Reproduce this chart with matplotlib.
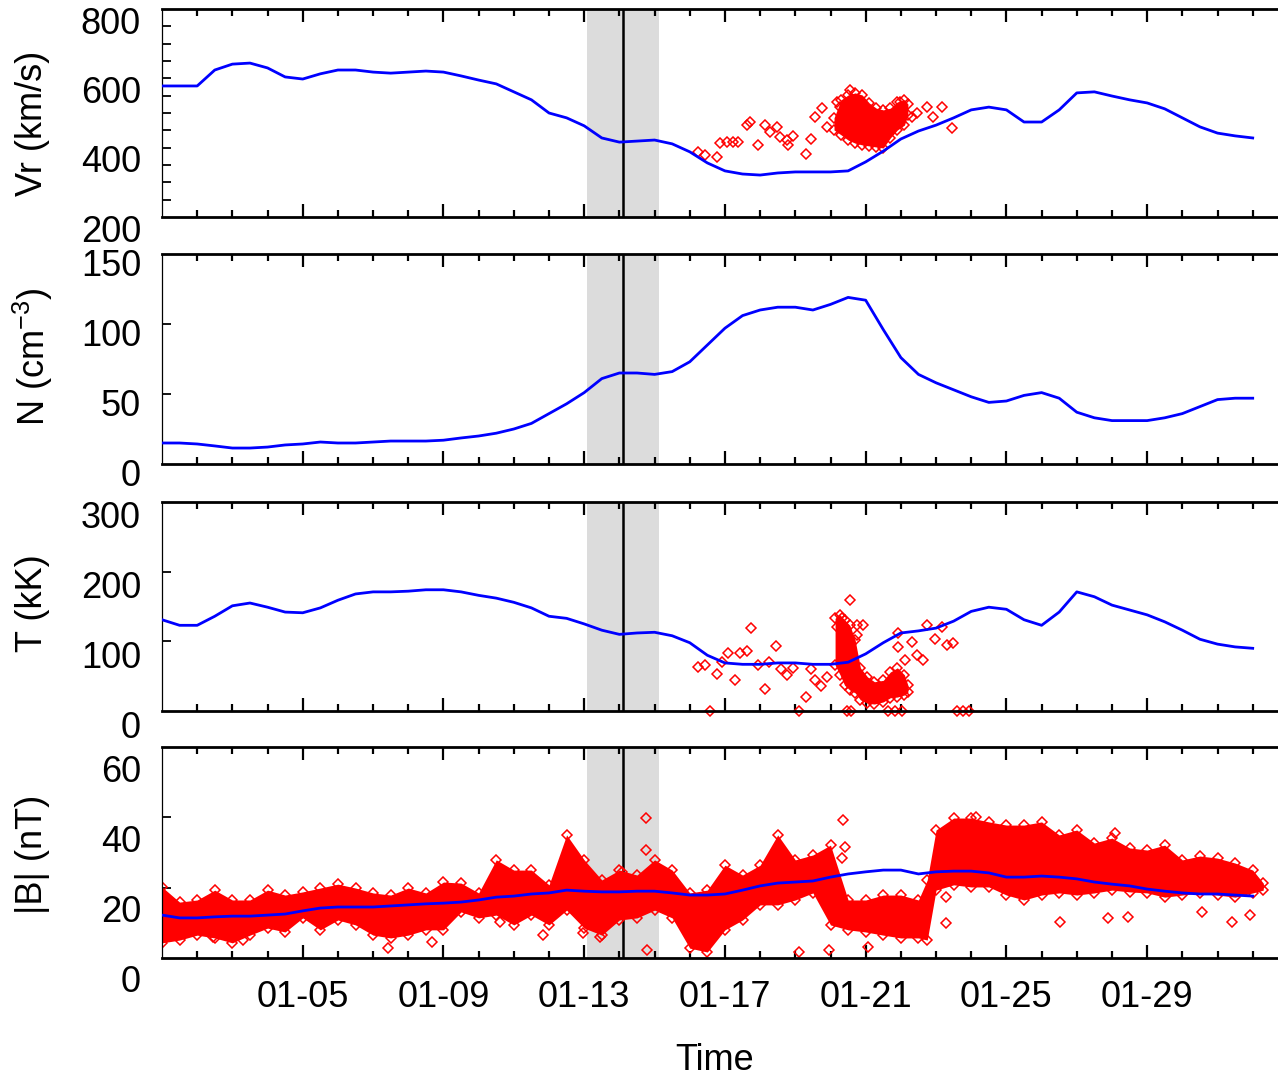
import numpy as np
import matplotlib
matplotlib.use("Agg")
import matplotlib.pyplot as plt
from matplotlib.transforms import blended_transform_factory, ScaledTranslation

plt.rcParams["font.family"] = ["Liberation Sans", "DejaVu Sans"]
plt.rcParams["mathtext.fontset"] = "custom"
plt.rcParams["mathtext.rm"] = "Liberation Sans"

# time axis: days since 01-01 00:00
day_grid = np.arange(0, 31.01, 0.5)
date_ticks = [4, 8, 12, 16, 20, 24, 28]
date_labels = ["01-05", "01-09", "01-13", "01-17", "01-21", "01-25", "01-29"]

event_day = 13.1
event_window = (12.07, 14.13)

# model (blue) curves
vr_model = [578, 578, 578, 624, 641, 644, 630, 604, 598, 613, 624, 624, 618,
            615, 618, 621, 618, 607, 595, 584, 561, 538, 500, 486, 463, 428,
            416, 419, 422, 411, 388, 356, 333, 324, 321, 327, 330, 330, 330,
            333, 359, 390, 425, 448, 465, 486, 509, 517, 509, 474, 474, 509,
            558, 561, 549, 538, 529, 512, 486, 460, 442, 434, 428]
n_model = [15, 15, 14.3, 12.9, 11.4, 11.4, 12.1, 13.6, 14.3, 15.7, 15, 15,
           15.7, 16.4, 16.4, 16.4, 17, 18.6, 20, 22, 25, 29, 36, 43, 51, 61,
           65, 65, 64, 66, 73, 85, 97, 106, 110, 112, 112, 110, 114, 119, 117,
           96, 76, 64, 58, 53, 48, 44, 45, 49, 51, 47, 37, 33, 31, 31, 31, 33,
           36, 41, 46, 47, 47]
t_model = [131, 123, 123, 136, 151, 155, 149, 142, 141, 148, 159, 168, 171,
           171, 172, 174, 174, 171, 166, 162, 156, 148, 136, 133, 125, 116,
           110, 112, 113, 108, 98, 80, 69, 67, 67, 69, 69, 67, 67, 70, 82, 98,
           112, 115, 119, 129, 143, 149, 146, 131, 123, 142, 171, 164, 152,
           145, 138, 128, 116, 103, 96, 92, 90]
b_model = [12.2, 11.4, 11.4, 11.7, 11.9, 11.9, 12.2, 12.5, 13.4, 14.2, 14.5,
           14.5, 14.5, 14.8, 15.1, 15.4, 15.6, 15.9, 16.5, 17.3, 17.6, 18.2,
           18.5, 19.3, 19.0, 18.8, 18.8, 19.0, 19.0, 18.5, 17.9, 17.9, 18.2,
           19.3, 20.5, 21.3, 21.6, 21.9, 23.0, 23.9, 24.5, 25.0, 25.0, 23.9,
           24.5, 24.7, 24.7, 24.2, 23.0, 23.0, 23.3, 23.0, 22.5, 21.6, 21.0,
           20.5, 19.6, 19.0, 18.5, 18.2, 18.2, 17.9, 17.6]

# observations (red): sparse points
vr_obs_day = [15.24, 15.44, 15.78, 15.87, 16.07, 16.24, 16.38, 16.63, 16.72,
              16.95, 17.14, 17.29, 17.48, 17.57, 17.77, 17.80, 17.94, 18.31,
              18.45, 18.57, 18.76, 18.90, 19.19, 19.56, 19.27, 20.98, 21.32,
              21.46, 21.75, 21.92, 22.17, 22.46]
vr_obs = [388, 379, 373, 413, 416, 416, 416, 465, 474, 408, 465, 445, 460,
          431, 422, 408, 434, 382, 425, 489, 514, 460, 532, 566, 517, 532,
          489, 500, 517, 489, 517, 457]
# observations: dense cluster as envelope
vr_band_day = [19.1, 19.3, 19.5, 19.7, 19.9, 20.1, 20.3, 20.5, 20.7, 20.9,
               21.1, 21.2]
vr_band_hi = [486, 538, 552, 558, 552, 529, 514, 509, 514, 532, 538, 526]
vr_band_lo = [451, 437, 422, 413, 408, 405, 402, 399, 428, 451, 465, 494]

t_obs_day = [15.24, 15.44, 15.78, 15.92, 16.09, 16.29, 16.43, 16.63, 16.75,
             16.95, 17.14, 17.26, 17.46, 17.60, 17.77, 17.94, 18.31, 18.45,
             18.57, 18.74, 18.90, 19.56, 19.19, 19.33, 19.76, 19.93, 19.76,
             20.92, 20.92, 21.12, 21.32, 21.46, 21.63, 21.75, 21.97, 22.17,
             22.31, 22.48, 15.58, 18.11, 19.47, 19.59, 20.64, 20.84, 21.03,
             22.60, 22.77, 22.94]
t_obs = [63, 66, 53, 70, 83, 44, 83, 86, 119, 66, 32, 70, 93, 60, 52, 62, 20,
         60, 44, 36, 49, 159, 121, 133, 123, 123, 109, 112, 92, 73, 99, 80,
         73, 123, 103, 121, 95, 98, 0, 0, 0, 0, 0, 0, 0, 0, 0, 0]
t_band_day = [19.13, 19.27, 19.4, 19.55, 19.7, 19.85, 20.05, 20.25, 20.5,
              20.7, 20.9, 21.1, 21.2]
t_band_hi = [133, 138, 131, 123, 102, 62, 49, 42, 44, 56, 62, 52, 37]
t_band_lo = [66, 52, 37, 30, 26, 16, 11, 10, 13, 19, 20, 23, 27]

b_band_day = [0, 0.5, 1, 1.5, 2, 2.5, 3, 3.5, 4, 4.5, 5, 5.5, 6, 6.5, 7, 7.5,
              8, 8.5, 9, 9.5, 10, 10.5, 11, 11.5, 12, 12.5, 13, 13.5, 14,
              14.5, 15, 15.5, 16, 16.5, 17, 17.5, 18, 18.5, 19, 19.5, 20,
              20.5, 21, 21.5, 21.75, 22, 22.5, 23, 23.5, 24, 24.5, 25, 25.5,
              26, 26.5, 27, 27.5, 28, 28.5, 29, 29.5, 30, 30.5, 31, 31.3]
b_band_hi = [20.2, 15.9, 16.5, 19.3, 16.5, 16.5, 19.3, 17.9, 18.8, 19.9, 21.0,
             19.9, 18.5, 17.9, 19.9, 18.5, 21.6, 21.3, 18.5, 27.9, 25.0, 25.0,
             20.8, 35.0, 27.9, 22.2, 25.0, 23.6, 27.9, 25.0, 18.5, 19.3, 26.4,
             23.6, 26.4, 35.0, 27.9, 29.3, 32.1, 16.5, 16.5, 17.9, 17.9, 16.5,
             22.2, 36.4, 39.8, 39.8, 38.7, 37.8, 37.8, 38.7, 35.0, 36.4, 32.7,
             34.1, 31.3, 30.7, 32.1, 27.9, 29.0, 28.4, 27.0, 25.0, 21.3]
b_band_lo = [4.3, 5.1, 6.5, 5.7, 4.3, 6.5, 8.5, 7.4, 11.4, 8.0, 10.8, 9.4,
             6.5, 5.7, 6.5, 8.0, 8.0, 13.1, 11.4, 12.2, 9.4, 12.2, 9.4, 13.6,
             8.5, 6.5, 10.8, 11.4, 13.6, 11.4, 2.8, 1.7, 8.0, 10.8, 15.1, 15.1,
             16.5, 18.5, 9.4, 8.0, 7.4, 6.5, 5.7, 5.7, 5.1, 19.3, 20.8, 20.2,
             20.2, 17.9, 16.5, 17.9, 18.5, 17.9, 18.5, 19.3, 18.8, 18.5, 17.3,
             17.9, 18.5, 17.9, 17.3, 18.5, 19.3]
b_obs_day = [13.76, 13.76, 13.08, 9.62, 7.68, 6.41, 12.46, 11.97, 13.79,
             10.84, 19.36, 19.42, 19.33, 18.11, 18.96, 20.07, 22.29, 22.29,
             25.52, 26.89, 27.46, 29.56, 30.41, 30.92, 27.08, 23.14, 2.3, 1.46]
b_obs = [39.8, 30.7, 24.5, 10.2, 4.5, 2.8, 6.0, 7.1, 2.3, 6.5, 39.2, 31.6,
         28.4, 1.7, 2.3, 3.1, 17.3, 10.0, 10.2, 11.4, 11.7, 13.1, 10.2, 12.2,
         35.5, 40.1, 5.1, 6.0]

panels = [
    dict(label="Vr (km/s)", ylim=(200, 800), ticks=np.arange(250, 800, 50),
         labels=[200, 400, 600, 800], model=vr_model,
         obs=(vr_obs_day, vr_obs), band=(vr_band_day, vr_band_lo, vr_band_hi),
         box=(9, 217), lab_off=15, ylab_y=123),
    dict(label=r"N (cm$^{-3}$)", ylim=(0, 150), ticks=[50, 100],
         labels=[0, 50, 100, 150], model=n_model, obs=None, band=None,
         box=(254, 464), lab_off=12, ylab_y=357),
    dict(label="T (kK)", ylim=(0, 300), ticks=[100, 200],
         labels=[0, 100, 200, 300], model=t_model,
         obs=(t_obs_day, t_obs), band=(t_band_day, t_band_lo, t_band_hi),
         box=(502, 711), lab_off=17, ylab_y=603),
    dict(label="|B| (nT)", ylim=(0, 60), ticks=[20, 40],
         labels=[0, 20, 40, 60], model=b_model,
         obs=(b_obs_day, b_obs), band=(b_band_day, b_band_lo, b_band_hi),
         box=(747, 958), lab_off=25, ylab_y=854),
]

W, H = 1278, 1075
fig = plt.figure(figsize=(W / 100, H / 100), dpi=100)
left_px = 162
fs = 26
red = "#ff0000"
blue = "#0000ff"

for i, p in enumerate(panels):
    top, bot = p["box"]
    ax = fig.add_axes([left_px / W, 1 - bot / H, 1 - left_px / W, (bot - top) / H])

    ax.axvspan(*event_window, color="#dcdcdc", lw=0, zorder=0)
    ax.axvline(event_day, color="black", lw=1.8, zorder=1)

    if p["band"] is not None:
        bd, lo, hi = p["band"]
        ax.fill_between(bd, lo, hi, color=red, lw=0, zorder=2)
        for edge in (lo, hi):
            ax.plot(bd, edge, ls="none", marker="D", ms=5, mfc="none",
                    mec=red, mew=1.1, zorder=2)
    if p["obs"] is not None:
        ax.plot(p["obs"][0], p["obs"][1], ls="none", marker="D", ms=5,
                mfc="none", mec=red, mew=1.1, zorder=2, clip_on=False)

    ax.plot(day_grid, p["model"], color=blue, lw=2.0, zorder=3)

    ax.set_xlim(0, (W - 161.5) / 35.2)
    ax.set_ylim(*p["ylim"])

    ax.set_xticks(date_ticks)
    ax.set_xticks(np.arange(1, 32), minor=True)
    ax.tick_params(axis="x", which="major", direction="in", length=9.5,
                   width=1.6, top=True, bottom=True, pad=16, labelsize=fs)
    ax.tick_params(axis="x", which="minor", direction="in", length=5,
                   width=1.6, top=True, bottom=True)
    if i < 3:
        ax.set_xticklabels([])
    else:
        ax.set_xticklabels(date_labels)

    ax.set_yticks(p["ticks"])
    ax.tick_params(axis="y", direction="in", length=6.5, width=1.3,
                   left=True, right=False, labelleft=False)

    ax.spines["right"].set_visible(False)
    ax.spines["top"].set_linewidth(2.0)
    ax.spines["bottom"].set_linewidth(2.0)
    ax.spines["left"].set_linewidth(0.9)

    # y tick labels sit a little below their ticks, as in the original
    trans = blended_transform_factory(ax.transAxes, ax.transData) + \
        ScaledTranslation(0, -p["lab_off"] / 100, fig.dpi_scale_trans)
    for v in p["labels"]:
        ax.text((141 - left_px) / (W - left_px), v, str(v), transform=trans,
                ha="right", va="center", fontsize=fs, clip_on=False)

    fig.text(33 / W, 1 - p["ylab_y"] / H, p["label"], rotation=90,
             ha="center", va="center", fontsize=fs)

fig.text(715 / W, 1 - 1060 / H, "Time", ha="center", va="center", fontsize=fs)

fig.savefig("out.png", dpi=100)
